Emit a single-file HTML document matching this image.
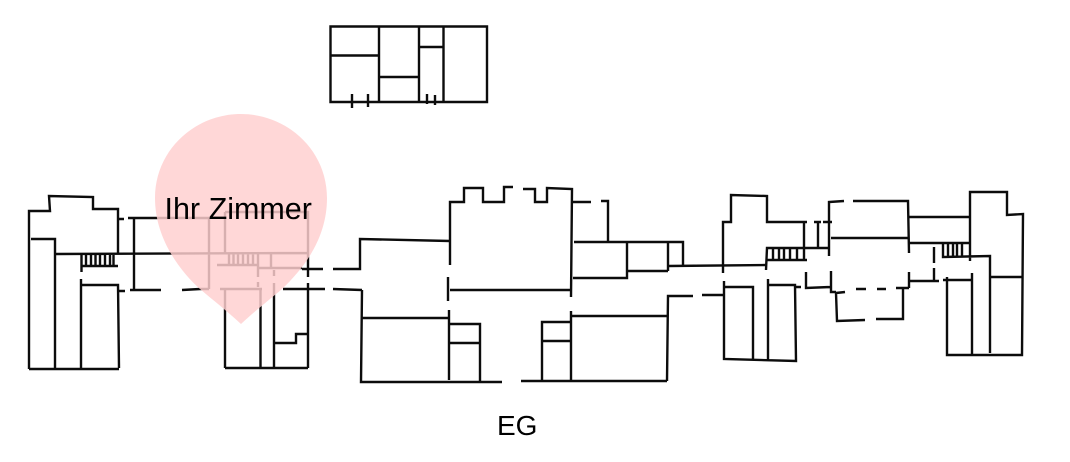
<!DOCTYPE html>
<html><head><meta charset="utf-8">
<style>
html,body{margin:0;padding:0;background:#fff;width:1070px;height:462px;overflow:hidden}
svg{display:block}
path{fill:none;stroke:#0c0c0c;stroke-width:2.4;stroke-linejoin:miter}
text{font-family:"Liberation Sans",sans-serif;fill:#000}
</style></head><body>
<svg width="1070" height="462" viewBox="0 0 1070 462" xmlns="http://www.w3.org/2000/svg">
<!-- top block -->
<path d="M330.500 26.500H487V102H330.500ZM379 26V102M419 26V102M443.500 26V102M330 55.500H379M379 77H419M419 47H443M352 94V108M368 94V107M427 94V104M435 95V105"/>
<!-- left block -->
<path d="M29 369V211H50L49 196L93 197V209H118V253M118 219H124M128 218H209M209 218V289M225 212V253M225 212H308V277M134 218V290M31 239H55V369M56 254L307 253M81.500 254V272M81 266H118M86 254V266M91 254V266M95.500 254V266M100 254V266M105 254V266M110 254V266M113.500 254V266M81 279V368M81 285H118L119 368M29 369H119M118 291H125M130 290H161M182 290L200 289H209M220 289H262M225 289V368M225 368H308M260.500 289V368M274 283V368M283 289H325M333 289L362 290M308 283V368M302 269H323M333 269H360V239L450 241M274 343H296V334H308M217 265H258M229 254V265M233.500 254V265M238 254V265M243 254V265M248 254V265M253 254V265M258 253V277M258 268H302M271 253V268M274 270V276M258 282V287"/>
<!-- main block -->
<path d="M450 265V202H464V188H483V202H504V187H513M523 189H535V202H547V188L572 189L571 297M572 202H591M601 201H608V242M574 242H683V266M627 242V278H573M627 271H668M668 242V271M668 266L766 265M448 277V301M450 290H571M449 310V380M362 290L361 382H502M362 318H450M450 324H480V382M450 343H480M521 381H667M542 381V322H571M543 341H571M571 311V381M572 316H667M667 381L668 296H693"/>
<!-- right block -->
<path d="M723 273V222H731V195L767 196V222H807M804 222V260M766 270L767 248H804M767 260H807M773 248V260M779 248V260M784 248V260M790 248V260M797 248V260M804 248H829M814 222H821M818 222V248M823 222H832M829 256V202L844 201M853 201H908L909 253M831 238H908M909 217H970M909 243H970M970 261V192H1007V215L1023 214L1022 355H947V277M943 243V257L990 256V353M948 243V257M953 243V257M957 243V257M962 243V257M991 277H1022M972 273V355M943 280H973M934 247V263M934 268V281M909 272V288M910 281H939M896 288H909M903 288V319H876M865 320L837 321L836 293L845 292M856 289H866M877 289H886M831 271V292L836 292M806 272V288L830 287M795 287H801M768 285H795L796 361L724 359V281M768 279V360M725 287H753V361M702 295H724"/>
<!-- pin -->
<path style="fill:#ffcfcf;fill-opacity:.84;stroke:none" d="M241 324C226 310 214 301 200 289C182 273 155 240 155 198C155 150 195 114 241 114C287 114 327 150 327 198C327 240 302 270 282 289C268 301 256 310 241 324Z"/>
<text x="164.500" y="219" font-size="30.500">Ihr Zimmer</text>
<text x="497" y="435" font-size="28">EG</text>
</svg>
</body></html>
